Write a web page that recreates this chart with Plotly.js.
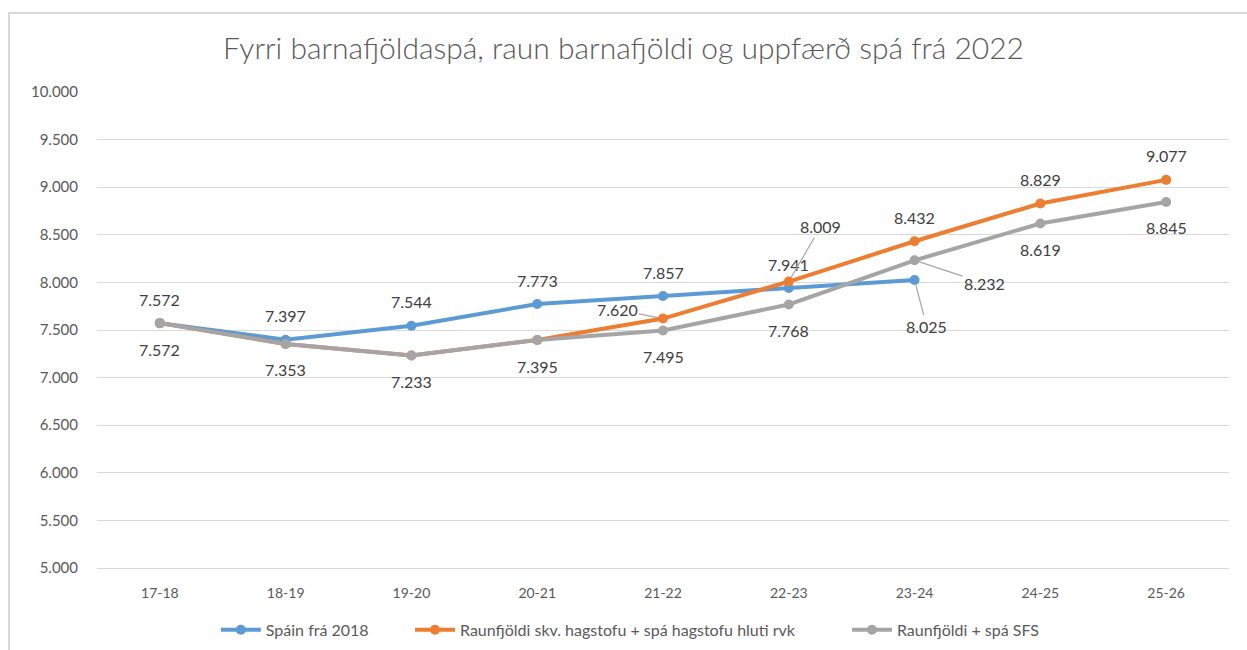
<!DOCTYPE html>
<html>
<head>
<meta charset="utf-8">
<script src="https://cdn.plot.ly/plotly-3.0.1.min.js"></script>
<style>
  html, body { margin: 0; padding: 0; background: #fff; }
  #wrap { position: relative; width: 1247px; height: 650px; overflow: hidden; }
  #chart { width: 1247px; height: 650px; }
  #frame { position: absolute; left: 8px; top: 12px; width: 1260px; height: 700px;
           border-top: 2px solid #D9D9D9; border-left: 2px solid #D9D9D9; pointer-events: none; }
</style>
</head>
<body>
<div id="wrap">
  <div id="chart"></div>
  <div id="frame"></div>
</div>
<script>
// ---- data ----
const categories = ["17-18","18-19","19-20","20-21","21-22","22-23","23-24","24-25","25-26"];
const spain2018 = [7572, 7397, 7544, 7773, 7857, 7941, 8025];
const hagstofa  = [7572, 7353, 7233, 7395, 7620, 8009, 8432, 8829, 9077];
const sfs       = [7572, 7353, 7233, 7395, 7495, 7768, 8232, 8619, 8845];
const seriesNames = ["Spáin frá 2018", "Raunfjöldi skv. hagstofu + spá hagstofu hluti rvk", "Raunfjöldi + spá SFS"];
const yTicks = [5000, 5500, 6000, 6500, 7000, 7500, 8000, 8500, 9000, 9500, 10000];

// ---- style ----
const colors = ["#5B9BD5", "#ED7D31", "#A5A5A5"];
const font = "Lato, 'Open Sans', sans-serif";
const fmt = v => String(v).replace(/\B(?=(\d{3})+(?!\d))/g, ".");
const legendIds = ["legend", "legend2", "legend3"];
const legendX = [0.105, 0.2765, 0.6625];

function mkTrace(values, i) {
  return {
    x: categories.slice(0, values.length), y: values, name: seriesNames[i],
    type: "scatter", mode: "lines+markers",
    line: { color: colors[i], width: 4 },
    marker: { color: colors[i], size: 10 },
    legend: legendIds[i],
    hoverinfo: "skip"
  };
}

// label placement: default shift per series, with leader-line overrides (pixel offsets)
const labelCfg = [
  { from: 0, shift: 24, leaders: { 6: [12, 46] } },
  { from: 4, shift: 24, leaders: { 4: [-46, -9], 5: [32, -55] } },
  { from: 0, shift: -26, leaders: { 6: [70, 23] } }
];
const allSeries = [spain2018, hagstofa, sfs];
const annotations = [];
allSeries.forEach((vals, i) => {
  const cfg = labelCfg[i];
  vals.forEach((v, j) => {
    if (j < cfg.from) return;
    const base = { x: categories[j], y: v, xref: "x", yref: "y", text: fmt(v),
                   font: { family: font, size: 16, color: "#404040" } };
    if (cfg.leaders[j]) {
      annotations.push(Object.assign(base, { showarrow: true, ax: cfg.leaders[j][0], ay: cfg.leaders[j][1],
        arrowhead: 0, arrowwidth: 1.2, arrowcolor: "#A6A6A6", standoff: 5 }));
    } else {
      annotations.push(Object.assign(base, { showarrow: false, yshift: cfg.shift }));
    }
  });
});

const legendBase = { orientation: "h", y: -0.13, yanchor: "middle", xanchor: "left",
                     font: { family: font, size: 16, color: "#595959" }, itemwidth: 40,
                     bgcolor: "rgba(0,0,0,0)", borderwidth: 0 };

const layout = {
  width: 1247, height: 650,
  margin: { l: 97, r: 18, t: 92, b: 82, autoexpand: false },
  paper_bgcolor: "#fff", plot_bgcolor: "#fff",
  font: { family: font, color: "#595959" },
  title: { text: "Fyrri barnafjöldaspá, raun barnafjöldi og uppfærð spá frá 2022",
           font: { family: font, size: 30, color: "#595959", weight: 300 },
           x: 0.5, xanchor: "center", y: 0.925, yanchor: "middle" },
  xaxis: { type: "category", categoryarray: categories, showgrid: false,
           showline: true, linecolor: "#D9D9D9", linewidth: 1, ticks: "",
           tickfont: { family: font, size: 14, color: "#595959" }, ticklabelstandoff: 12,
           range: [-0.5, 8.5], fixedrange: true },
  yaxis: { range: [5000, 10000], tickvals: yTicks, ticktext: yTicks.map(fmt),
           showgrid: true, gridcolor: "#D9D9D9", gridwidth: 1, zeroline: false, showline: false,
           tickfont: { family: font, size: 15, color: "#595959" }, ticklabelstandoff: 18, fixedrange: true },
  showlegend: true,
  annotations: annotations
};
legendIds.forEach((id, i) => { layout[id] = Object.assign({}, legendBase, { x: legendX[i] }); });

Plotly.newPlot("chart", allSeries.map(mkTrace), layout, { displayModeBar: false, staticPlot: true });
</script>
</body>
</html>
